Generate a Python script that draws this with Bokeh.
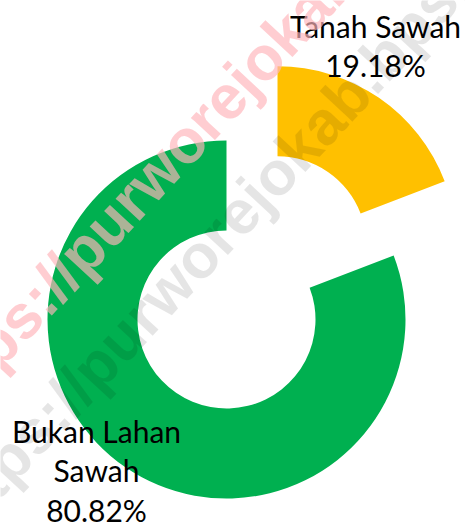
import math
from bokeh.plotting import figure
from bokeh.models import Range1d, ColumnDataSource
from bokeh.core.properties import value
from bokeh.embed import file_html
from bokeh.resources import INLINE

# ---- data ----
categories = ["Tanah Sawah", "Bukan Lahan Sawah"]
percentages = [19.18, 80.82]
label_name_lines = [["Tanah Sawah"], ["Bukan Lahan", "Sawah"]]
colors = ["#FFC000", "#00B050"]
watermark_text = "https://purworejokab.bps.go.id"

# ---- layout ----
W, H = 465, 527
CX, CY = 226, 208          # donut centre (data units = px, y up)
R_OUT, R_IN = 179, 89
EXPLODE = [90, 0]
LABEL_POS = [(375, 502), (96, 97)]   # first line anchor
LINE_GAP = 39.5

p = figure(width=W, height=H, x_range=Range1d(0, W), y_range=Range1d(0, H),
           output_backend="svg", toolbar_location=None, min_border=0)
p.axis.visible = False
p.grid.visible = False
p.outline_line_color = None
p.background_fill_color = "white"
p.border_fill_color = "white"

total = sum(percentages)
cum = 0.0
xs, ys, starts, ends = [], [], [], []
for v, e in zip(percentages, EXPLODE):
    a0 = math.pi / 2 - 2 * math.pi * (cum + v) / total
    a1 = math.pi / 2 - 2 * math.pi * cum / total
    mid = (a0 + a1) / 2
    xs.append(CX + e * math.cos(mid))
    ys.append(CY + e * math.sin(mid))
    starts.append(a0)
    ends.append(a1)
    cum += v

src = ColumnDataSource(dict(x=xs, y=ys, start=starts, end=ends, color=colors, cat=categories))
p.annular_wedge(x="x", y="y", inner_radius=R_IN, outer_radius=R_OUT,
                start_angle="start", end_angle="end", fill_color="color",
                line_color=None, source=src)

# labels
tx, ty, tt = [], [], []
for lines, pct, (lx, ly) in zip(label_name_lines, percentages, LABEL_POS):
    all_lines = lines + [f"{pct:.2f}%"]
    for i, ln in enumerate(all_lines):
        tx.append(lx)
        ty.append(ly - i * LINE_GAP)
        tt.append(ln)
p.text(x=tx, y=ty, text=tt, text_align="center", text_baseline="alphabetic",
       text_font=value("Lato"), text_font_size="30px", text_color="black")

# watermark
ang = math.radians(47)
p.text(x=[237], y=[443], text=[watermark_text], angle=ang,
       text_align="center", text_baseline="middle",
       text_font=value("Liberation Sans"), text_font_style="bold",
       text_font_size="62px", text_color="#FFB4BB", text_alpha=0.67)
p.text(x=[250], y=[328], text=[watermark_text], angle=ang,
       text_align="center", text_baseline="middle",
       text_font=value("Liberation Sans"), text_font_style="bold",
       text_font_size="62px", text_color="black", text_alpha=0.1)

open("out.html", "w").write(file_html(p, INLINE))
